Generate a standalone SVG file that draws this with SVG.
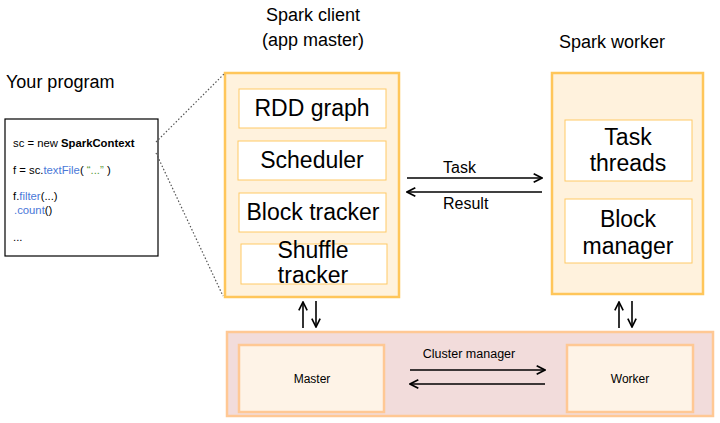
<svg xmlns="http://www.w3.org/2000/svg" width="720" height="423" viewBox="0 0 720 423">
<style>
  text { font-family: "Liberation Sans", Arial, sans-serif; fill: #000; }
  .title { font-size: 18px; }
  .big { font-size: 23px; text-anchor: middle; }
  .code { font-size: 11.3px; }
  .blue { fill: #4a78d8; }
  .green { fill: #5a9a3c; }
  .lbl { font-size: 16px; }
  .small { font-size: 12px; text-anchor: middle; }
  .outer { fill: #FFF2DD; stroke: #FFC65A; stroke-width: 2.5; }
  .inner { fill: #FFFFFF; stroke: #FFC966; stroke-width: 1; }
  .cluster { fill: #F2DCDB; stroke: #FFC894; stroke-width: 2.5; }
  .cnode { fill: #FEF3E7; stroke: #FFC894; stroke-width: 2.5; }
  .arrow { stroke: #000; stroke-width: 1.6; fill: none; marker-end: url(#head); }
  .dots { stroke: #555; stroke-width: 1.2; stroke-dasharray: 1.5 2; fill: none; }
</style>
<defs>
  <marker id="head" viewBox="0 0 10 10" refX="9" refY="5" markerWidth="6.5" markerHeight="6.5" orient="auto" markerUnits="strokeWidth">
    <path d="M1,1 L9,5 L1,9" fill="none" stroke="#000" stroke-width="1.6"/>
  </marker>
</defs>
<rect width="720" height="423" fill="#fff"/>

<g id="program">
  <text class="title" x="6" y="88">Your program</text>
  <rect x="5" y="119" width="153" height="137" fill="#fff" stroke="#000" stroke-width="1.2"/>
  <text class="code" x="13" y="147">sc = new <tspan font-weight="bold">SparkContext</tspan></text>
  <text class="code" x="13" y="174">f = sc.<tspan class="blue">textFile</tspan>( <tspan class="green"> “...” </tspan> )</text>
  <text class="code" x="13" y="200">f.<tspan class="blue">filter</tspan>(...)</text>
  <text class="code" x="14" y="214"><tspan class="blue">.count</tspan>()</text>
  <text class="code" x="13" y="241">...</text>
</g>

<g id="spark-client">
  <text class="title" x="313" y="21" text-anchor="middle">Spark client</text>
  <text class="title" x="313" y="46" text-anchor="middle">(app master)</text>
  <rect class="outer" x="225" y="73" width="174" height="224"/>
  <g id="rdd-graph">
    <rect class="inner" x="239" y="89" width="147" height="39"/>
    <text class="big" x="312" y="116">RDD graph</text>
  </g>
  <g id="scheduler">
    <rect class="inner" x="238" y="141" width="148" height="39"/>
    <text class="big" x="312" y="168">Scheduler</text>
  </g>
  <g id="block-tracker">
    <rect class="inner" x="239" y="193" width="147" height="39"/>
    <text class="big" x="313" y="220">Block tracker</text>
  </g>
  <g id="shuffle-tracker">
    <rect class="inner" x="241" y="244" width="146" height="40"/>
    <text class="big" x="313" y="258">Shuffle</text>
    <text class="big" x="313" y="283">tracker</text>
  </g>
</g>

<g id="spark-worker">
  <text class="title" x="612" y="48" text-anchor="middle">Spark worker</text>
  <rect class="outer" x="552" y="73" width="151" height="221"/>
  <g id="task-threads">
    <rect class="inner" x="565" y="120" width="127" height="61"/>
    <text class="big" x="628" y="145">Task</text>
    <text class="big" x="628" y="171">threads</text>
  </g>
  <g id="block-manager">
    <rect class="inner" x="565" y="199" width="127" height="64"/>
    <text class="big" x="628" y="227">Block</text>
    <text class="big" x="628" y="254">manager</text>
  </g>
</g>

<g id="cluster-manager">
  <rect class="cluster" x="227" y="332" width="486" height="84"/>
  <g id="master">
    <rect class="cnode" x="239" y="345" width="145" height="67"/>
    <text class="small" x="312" y="383">Master</text>
  </g>
  <g id="worker">
    <rect class="cnode" x="567" y="345" width="126" height="67"/>
    <text class="small" x="630" y="383">Worker</text>
  </g>
  <text x="469" y="358" font-size="12.5" text-anchor="middle">Cluster manager</text>
</g>

<g id="connectors">
  <line class="dots" x1="156" y1="142" x2="224" y2="74"/>
  <line class="dots" x1="156" y1="153" x2="223" y2="296"/>
  <line class="arrow" x1="407" y1="178" x2="542" y2="178"/>
  <line class="arrow" x1="542" y1="192" x2="407" y2="192"/>
  <text class="lbl" x="443" y="173">Task</text>
  <text class="lbl" x="443" y="209">Result</text>
  <line class="arrow" x1="410" y1="370" x2="545" y2="370"/>
  <line class="arrow" x1="545" y1="384" x2="410" y2="384"/>
  <line class="arrow" x1="303" y1="328" x2="303" y2="302"/>
  <line class="arrow" x1="316" y1="301" x2="316" y2="327"/>
  <line class="arrow" x1="619" y1="328" x2="619" y2="302"/>
  <line class="arrow" x1="632" y1="301" x2="632" y2="327"/>
</g>
</svg>
